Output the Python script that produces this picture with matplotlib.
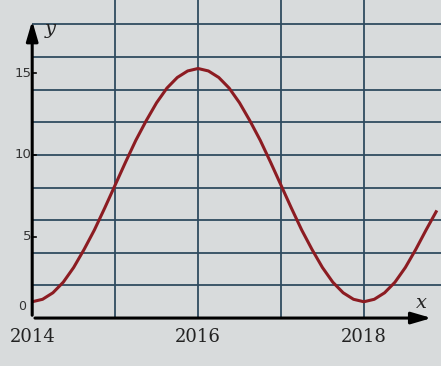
import matplotlib
matplotlib.use("Agg")
import matplotlib.pyplot as plt

# values (year, y)
years = [2014.0, 2014.125, 2014.25, 2014.375, 2014.5, 2014.625, 2014.75, 2014.875,
         2015.0, 2015.125, 2015.25, 2015.375, 2015.5, 2015.625, 2015.75, 2015.875,
         2016.0, 2016.125, 2016.25, 2016.375, 2016.5, 2016.625, 2016.75, 2016.875,
         2017.0, 2017.125, 2017.25, 2017.375, 2017.5, 2017.625, 2017.75, 2017.875,
         2018.0, 2018.125, 2018.25, 2018.375, 2018.5, 2018.625, 2018.75, 2018.88]
values = [1.0, 1.15, 1.55, 2.2, 3.1, 4.2, 5.4, 6.75,
          8.15, 9.55, 10.9, 12.1, 13.2, 14.1, 14.75, 15.15,
          15.3, 15.15, 14.75, 14.1, 13.2, 12.1, 10.9, 9.55,
          8.15, 6.75, 5.4, 4.2, 3.1, 2.2, 1.55, 1.15,
          1.0, 1.15, 1.55, 2.2, 3.1, 4.2, 5.4, 6.6]
y_ticks = [5, 10, 15]
x_labels = [2014, 2016, 2018]
h_grid = [2, 4, 6, 8, 10, 12, 14, 16, 18]
v_grid = [2015, 2016, 2017, 2018]

paper = "#d8dbdc"
grid_c = "#2f4b5f"

fig = plt.figure(figsize=(4.41, 3.66), dpi=100, facecolor=paper)
ax = fig.add_axes([0.073, 0.131, 0.927, 0.869])
ax.set_facecolor(paper)
ax.set_xlim(2014, 2018.93)
ax.set_ylim(0, 19.5)
ax.axis("off")

for h in h_grid:
    ax.plot([2014, 2018.93], [h, h], color=grid_c, lw=1.3, zorder=1)
for v in v_grid:
    ax.plot([v, v], [0, 19.5], color=grid_c, lw=1.3, zorder=1)

ax.plot(years, values, color="#8c1c22", lw=2.2, zorder=3, solid_capstyle="butt")

# axes with arrows
ax.annotate("", xy=(2018.85, 0), xytext=(2014, 0),
            arrowprops=dict(arrowstyle="-|>,head_length=1.2,head_width=0.35", color="black", lw=2.2),
            zorder=4)
ax.annotate("", xy=(2014, 18.4), xytext=(2014, 0),
            arrowprops=dict(arrowstyle="-|>,head_length=1.2,head_width=0.35", color="black", lw=2.2),
            zorder=4)

for t in y_ticks:
    ax.plot([2014, 2014.05], [t, t], color="black", lw=1.2, clip_on=False)
    ax.text(2013.99, t, str(t), ha="right", va="center", fontsize=9.5,
            color="#333333", clip_on=False)
ax.text(2013.88, 0.3, "0", ha="center", va="bottom", fontsize=9, color="#333333", clip_on=False)

for x in x_labels:
    ax.text(x, -0.6, str(x), ha="center", va="top", fontsize=13, family="DejaVu Serif",
            color="#222222", clip_on=False)

ax.text(2014.15, 17.4, "y", fontsize=14, style="italic", family="DejaVu Serif", color="#222222")
ax.text(2018.63, 0.6, "x", fontsize=14, style="italic", family="DejaVu Serif", color="#222222")

fig.savefig("out.png", dpi=100, facecolor=paper)
